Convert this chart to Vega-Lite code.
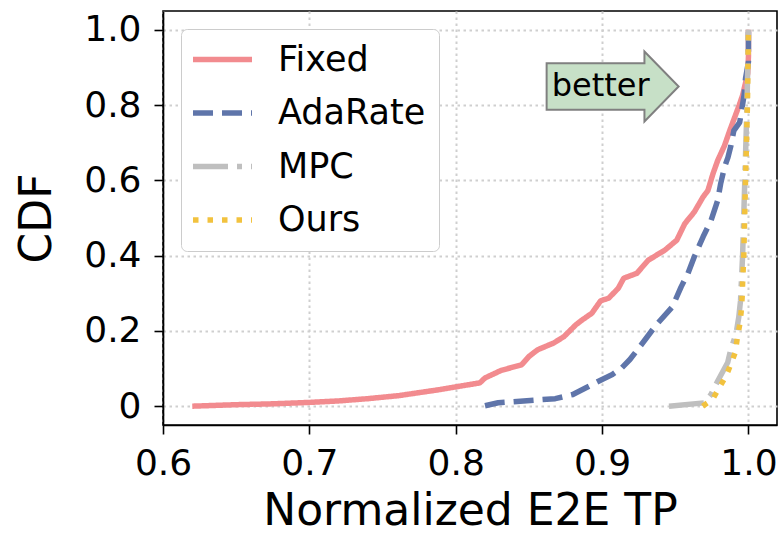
{
  "$schema": "https://vega.github.io/schema/vega-lite/v6.json",
  "autosize": {"type": "none"},
  "padding": {"left": 163, "top": 11, "right": 3, "bottom": 113},
  "width": 614,
  "height": 414,
  "background": "white",
  "config": {
    "font": "DejaVu Sans",
    "view": {"stroke": "black", "strokeWidth": 1.6},
    "axis": {
      "domainColor": "black",
      "domainWidth": 1.6,
      "tickColor": "black",
      "tickWidth": 1.6,
      "tickSize": 9,
      "labelColor": "black",
      "labelFont": "DejaVu Sans",
      "labelFontSize": 36,
      "titleFont": "DejaVu Sans",
      "titleFontWeight": "normal",
      "titleColor": "black",
      "grid": true,
      "gridColor": "#cfcfcf",
      "gridWidth": 2,
      "gridDash": [2.5, 3.5],
      "labelOverlap": false,
      "labelFlush": false
    },
    "legend": {
      "orient": "none",
      "legendX": 18,
      "legendY": 18,
      "symbolType": "M-2,0L2,0",
      "symbolSize": 870,
      "symbolStrokeWidth": 5.5,
      "labelFont": "DejaVu Sans",
      "labelFontSize": 35,
      "labelColor": "black",
      "labelOffset": 38,
      "labelLimit": 0,
      "rowPadding": 17.5,
      "padding": 13,
      "symbolOffset": 11,
      "fillColor": "white",
      "strokeColor": "#cccccc",
      "cornerRadius": 6
    }
  },
  "layer": [
    {
      "data": {
        "values": [
          {"s": "Fixed", "x": 0.620, "y": 0.0},
          {"s": "Fixed", "x": 0.650, "y": 0.004},
          {"s": "Fixed", "x": 0.673, "y": 0.006},
          {"s": "Fixed", "x": 0.700, "y": 0.010},
          {"s": "Fixed", "x": 0.720, "y": 0.014},
          {"s": "Fixed", "x": 0.740, "y": 0.020},
          {"s": "Fixed", "x": 0.761, "y": 0.028},
          {"s": "Fixed", "x": 0.789, "y": 0.044},
          {"s": "Fixed", "x": 0.8165, "y": 0.062},
          {"s": "Fixed", "x": 0.820, "y": 0.075},
          {"s": "Fixed", "x": 0.831, "y": 0.095},
          {"s": "Fixed", "x": 0.845, "y": 0.110},
          {"s": "Fixed", "x": 0.850, "y": 0.132},
          {"s": "Fixed", "x": 0.856, "y": 0.150},
          {"s": "Fixed", "x": 0.867, "y": 0.168},
          {"s": "Fixed", "x": 0.874, "y": 0.185},
          {"s": "Fixed", "x": 0.882, "y": 0.216},
          {"s": "Fixed", "x": 0.886, "y": 0.228},
          {"s": "Fixed", "x": 0.893, "y": 0.247},
          {"s": "Fixed", "x": 0.899, "y": 0.280},
          {"s": "Fixed", "x": 0.9045, "y": 0.287},
          {"s": "Fixed", "x": 0.911, "y": 0.313},
          {"s": "Fixed", "x": 0.9148, "y": 0.340},
          {"s": "Fixed", "x": 0.9237, "y": 0.353},
          {"s": "Fixed", "x": 0.9316, "y": 0.388},
          {"s": "Fixed", "x": 0.943, "y": 0.415},
          {"s": "Fixed", "x": 0.951, "y": 0.441},
          {"s": "Fixed", "x": 0.9565, "y": 0.485},
          {"s": "Fixed", "x": 0.963, "y": 0.516},
          {"s": "Fixed", "x": 0.969, "y": 0.556},
          {"s": "Fixed", "x": 0.9723, "y": 0.573},
          {"s": "Fixed", "x": 0.9757, "y": 0.617},
          {"s": "Fixed", "x": 0.979, "y": 0.653},
          {"s": "Fixed", "x": 0.9836, "y": 0.692},
          {"s": "Fixed", "x": 0.987, "y": 0.730},
          {"s": "Fixed", "x": 0.9936, "y": 0.799},
          {"s": "Fixed", "x": 0.996, "y": 0.826},
          {"s": "Fixed", "x": 0.9995, "y": 0.884},
          {"s": "Fixed", "x": 1.0, "y": 0.930},
          {"s": "Fixed", "x": 1.0, "y": 1.0},
          {"s": "AdaRate", "x": 0.820, "y": 0.001},
          {"s": "AdaRate", "x": 0.829, "y": 0.009},
          {"s": "AdaRate", "x": 0.868, "y": 0.020},
          {"s": "AdaRate", "x": 0.880, "y": 0.031},
          {"s": "AdaRate", "x": 0.889, "y": 0.049},
          {"s": "AdaRate", "x": 0.900, "y": 0.071},
          {"s": "AdaRate", "x": 0.907, "y": 0.084},
          {"s": "AdaRate", "x": 0.9135, "y": 0.102},
          {"s": "AdaRate", "x": 0.919, "y": 0.124},
          {"s": "AdaRate", "x": 0.925, "y": 0.154},
          {"s": "AdaRate", "x": 0.937, "y": 0.216},
          {"s": "AdaRate", "x": 0.948, "y": 0.264},
          {"s": "AdaRate", "x": 0.954, "y": 0.317},
          {"s": "AdaRate", "x": 0.9587, "y": 0.353},
          {"s": "AdaRate", "x": 0.963, "y": 0.397},
          {"s": "AdaRate", "x": 0.969, "y": 0.450},
          {"s": "AdaRate", "x": 0.9745, "y": 0.494},
          {"s": "AdaRate", "x": 0.979, "y": 0.547},
          {"s": "AdaRate", "x": 0.981, "y": 0.591},
          {"s": "AdaRate", "x": 0.9836, "y": 0.635},
          {"s": "AdaRate", "x": 0.986, "y": 0.661},
          {"s": "AdaRate", "x": 0.988, "y": 0.692},
          {"s": "AdaRate", "x": 0.990, "y": 0.732},
          {"s": "AdaRate", "x": 0.994, "y": 0.754},
          {"s": "AdaRate", "x": 0.997, "y": 0.826},
          {"s": "AdaRate", "x": 0.998, "y": 0.871},
          {"s": "AdaRate", "x": 1.0, "y": 0.915},
          {"s": "AdaRate", "x": 1.0, "y": 1.0},
          {"s": "MPC", "x": 0.9457, "y": 0.0},
          {"s": "MPC", "x": 0.970, "y": 0.009},
          {"s": "MPC", "x": 0.9744, "y": 0.031},
          {"s": "MPC", "x": 0.979, "y": 0.067},
          {"s": "MPC", "x": 0.9858, "y": 0.116},
          {"s": "MPC", "x": 0.988, "y": 0.152},
          {"s": "MPC", "x": 0.9915, "y": 0.192},
          {"s": "MPC", "x": 0.9934, "y": 0.237},
          {"s": "MPC", "x": 0.9946, "y": 0.281},
          {"s": "MPC", "x": 0.995, "y": 0.317},
          {"s": "MPC", "x": 0.996, "y": 0.40},
          {"s": "MPC", "x": 0.9975, "y": 0.60},
          {"s": "MPC", "x": 0.999, "y": 0.80},
          {"s": "MPC", "x": 1.0, "y": 1.0},
          {"s": "Ours", "x": 0.9687, "y": 0.0},
          {"s": "Ours", "x": 0.9755, "y": 0.018},
          {"s": "Ours", "x": 0.980, "y": 0.049},
          {"s": "Ours", "x": 0.9847, "y": 0.080},
          {"s": "Ours", "x": 0.988, "y": 0.112},
          {"s": "Ours", "x": 0.991, "y": 0.143},
          {"s": "Ours", "x": 0.9923, "y": 0.179},
          {"s": "Ours", "x": 0.9939, "y": 0.214},
          {"s": "Ours", "x": 0.995, "y": 0.250},
          {"s": "Ours", "x": 0.9957, "y": 0.290},
          {"s": "Ours", "x": 0.996, "y": 0.326},
          {"s": "Ours", "x": 0.9968, "y": 0.40},
          {"s": "Ours", "x": 0.998, "y": 0.60},
          {"s": "Ours", "x": 0.9993, "y": 0.80},
          {"s": "Ours", "x": 1.0, "y": 1.0}
        ]
      },
      "mark": {"type": "line", "strokeWidth": 5.5, "strokeCap": "butt", "strokeJoin": "round", "clip": true},
      "encoding": {
        "x": {
          "field": "x", "type": "quantitative",
          "scale": {"domain": [0.6, 1.0195], "nice": false, "zero": false},
          "axis": {"values": [0.6, 0.7, 0.8, 0.9, 1.0], "format": ".1f", "title": "Normalized E2E TP", "titleFontSize": 44, "labelPadding": 12, "titlePadding": 8}
        },
        "y": {
          "field": "y", "type": "quantitative",
          "scale": {"domain": [-0.05, 1.05], "nice": false, "zero": false},
          "axis": {"values": [0, 0.2, 0.4, 0.6, 0.8, 1.0], "labelExpr": "datum.value == 0 ? '0' : format(datum.value, '.1f')", "title": "CDF", "titleFontSize": 44, "labelPadding": 13, "titlePadding": 24}
        },
        "color": {
          "field": "s", "type": "nominal",
          "scale": {"domain": ["Fixed", "AdaRate", "MPC", "Ours"], "range": ["#F28B8F", "#5F75AA", "#BFBFBF", "#F2C23E"]},
          "legend": {"title": null}
        },
        "strokeDash": {
          "field": "s", "type": "nominal",
          "scale": {"domain": ["Fixed", "AdaRate", "MPC", "Ours"], "range": [[1, 0], [20, 9], [35, 9, 5, 9], [5.5, 9]]},
          "legend": {"title": null}
        },
        "order": {"field": "y", "type": "quantitative"}
      }
    },
    {
      "data": {"values": [{"x": 0.9072, "y": 0.8495}]},
      "mark": {
        "type": "point",
        "shape": "M-1,-0.351L0.482,-0.351L0.482,-0.53L1,0L0.482,0.53L0.482,0.351L-1,0.351Z",
        "size": 17424,
        "filled": true,
        "fill": "#C7E0C7",
        "fillOpacity": 1,
        "stroke": "#808080",
        "strokeWidth": 2,
        "opacity": 1
      },
      "encoding": {
        "x": {"field": "x", "type": "quantitative"},
        "y": {"field": "y", "type": "quantitative"}
      }
    },
    {
      "data": {"values": [{"x": 0.899, "y": 0.852, "t": "better"}]},
      "mark": {"type": "text", "fontSize": 32, "font": "DejaVu Sans", "color": "black", "align": "center", "baseline": "middle"},
      "encoding": {
        "x": {"field": "x", "type": "quantitative"},
        "y": {"field": "y", "type": "quantitative"},
        "text": {"field": "t"}
      }
    }
  ]
}
